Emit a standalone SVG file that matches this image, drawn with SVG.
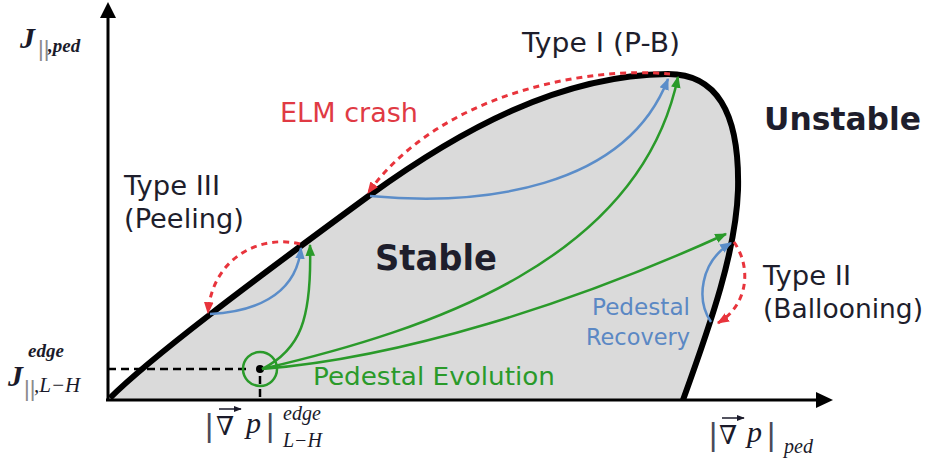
<svg xmlns="http://www.w3.org/2000/svg" width="931" height="469" viewBox="0 0 931 469">
<defs>
<style>
.lbl{font-family:"DejaVu Sans","Liberation Sans",sans-serif;fill:#1e1e2c}
.math{font-family:"Liberation Serif","DejaVu Serif",serif;font-style:italic;fill:#1a1a2a}
.blue{fill:none;stroke:#5b8dc9;stroke-width:2.5}
.green{fill:none;stroke:#2a9a2a;stroke-width:2.5}
.red{fill:none;stroke:#e8343c;stroke-width:3;stroke-dasharray:6 5}
</style>
<marker id="mb" viewBox="0 0 10 10" refX="9" refY="5" markerWidth="12" markerHeight="12" markerUnits="userSpaceOnUse" orient="auto"><path d="M0,1 L10,5 L0,9 Z" fill="#5b8dc9"/></marker>
<marker id="mg" viewBox="0 0 10 10" refX="9" refY="5" markerWidth="12" markerHeight="12" markerUnits="userSpaceOnUse" orient="auto"><path d="M0,1 L10,5 L0,9 Z" fill="#2a9a2a"/></marker>
<marker id="mr" viewBox="0 0 10 10" refX="9" refY="5" markerWidth="12" markerHeight="12" markerUnits="userSpaceOnUse" orient="auto"><path d="M0,1 L10,5 L0,9 Z" fill="#e8343c"/></marker>
<marker id="mk" viewBox="0 0 10 10" refX="9" refY="5" markerWidth="8" markerHeight="8" markerUnits="userSpaceOnUse" orient="auto"><path d="M0,1 L10,5 L0,9 Z" fill="#1a1a2a"/></marker>
</defs>
<rect width="931" height="469" fill="#ffffff"/>

<g id="stable-region">
<path d="M110 398 C150 358 250 283 370 195 C460 130 560 75 668 74 C715 74 740 110 738 190 C736 250 712 320 683 400 L110 400 Z" fill="#dadada"/>
</g>

<g id="axes">
<line x1="108" y1="400" x2="108" y2="16" stroke="#000" stroke-width="3"/>
<path d="M108 2 L100 18 L116 18 Z" fill="#000"/>
<line x1="106" y1="400" x2="818" y2="400" stroke="#000" stroke-width="3"/>
<path d="M833 400 L816 392 L816 408 Z" fill="#000"/>
<line x1="108" y1="369" x2="250" y2="369" stroke="#000" stroke-width="2.5" stroke-dasharray="8 5"/>
<line x1="260" y1="376" x2="260" y2="399" stroke="#000" stroke-width="2.5" stroke-dasharray="8 5"/>
</g>

<g id="boundary">
<path d="M110 398 C150 358 250 283 370 195 C460 130 560 75 668 74 C715 74 740 110 738 190 C736 250 712 320 683 400" fill="none" stroke="#000" stroke-width="6"/>
</g>

<g id="start-point">
<circle cx="260" cy="369" r="17" fill="none" stroke="#2a9a2a" stroke-width="2.5"/>
<circle cx="260" cy="369" r="4" fill="#000"/>
</g>

<g id="connectors">
<path class="red" d="M670 74 C590 66 440 92 368 193" marker-end="url(#mr)"/>
<path class="red" d="M300 244 C260 234 212 258 208 313" marker-end="url(#mr)"/>
<path class="red" d="M734 242 C752 268 748 305 718 323" marker-end="url(#mr)"/>
<path class="blue" d="M370 196 C480 206 625 190 668 79" marker-end="url(#mb)"/>
<path class="blue" d="M210 314 C250 312 296 298 301 248" marker-end="url(#mb)"/>
<path class="blue" d="M711 322 C696 300 700 262 731 243" marker-end="url(#mb)"/>
<path class="green" d="M262 369 C300 350 312 320 310 245" marker-end="url(#mg)"/>
<path class="green" d="M262 369 C430 330 640 260 678 77" marker-end="url(#mg)"/>
<path class="green" d="M262 369 C400 358 570 305 726 234" marker-end="url(#mg)"/>
</g>

<g id="labels">
<text class="lbl" x="522" y="52" font-size="26" textLength="158" lengthAdjust="spacingAndGlyphs">Type I (P-B)</text>
<text class="lbl" x="280" y="122" font-size="26" textLength="138" lengthAdjust="spacingAndGlyphs" style="fill:#e03a44">ELM crash</text>
<text class="lbl" x="764" y="130" font-size="32" font-weight="bold" textLength="157" lengthAdjust="spacingAndGlyphs">Unstable</text>
<text class="lbl" x="375" y="270" font-size="36" font-weight="bold" textLength="122" lengthAdjust="spacingAndGlyphs">Stable</text>
<text class="lbl" x="124" y="195" font-size="26" textLength="96" lengthAdjust="spacingAndGlyphs">Type III</text>
<text class="lbl" x="124" y="228" font-size="26" textLength="120" lengthAdjust="spacingAndGlyphs">(Peeling)</text>
<text class="lbl" x="763" y="285" font-size="26" textLength="88" lengthAdjust="spacingAndGlyphs">Type II</text>
<text class="lbl" x="763" y="318" font-size="26" textLength="160" lengthAdjust="spacingAndGlyphs">(Ballooning)</text>
<text class="lbl" x="592" y="315" font-size="23" textLength="98" lengthAdjust="spacingAndGlyphs" style="fill:#5b88c4">Pedestal</text>
<text class="lbl" x="586" y="345" font-size="23" textLength="104" lengthAdjust="spacingAndGlyphs" style="fill:#5b88c4">Recovery</text>
<text class="lbl" x="313" y="385" font-size="25" textLength="242" lengthAdjust="spacingAndGlyphs" style="fill:#2a9a2a">Pedestal Evolution</text>
</g>

<g id="axis-labels">
<text class="math" x="20" y="48" font-size="30" font-weight="bold">J</text>
<text x="38" y="56" font-family="Liberation Sans,sans-serif" font-size="22" fill="#8a8a8a">||</text>
<text class="math" x="48" y="52" font-size="19" font-weight="bold">,ped</text>

<text class="math" x="8" y="386" font-size="30" font-weight="bold">J</text>
<text class="math" x="28" y="357" font-size="19" font-weight="bold">edge</text>
<text x="24" y="396" font-family="Liberation Sans,sans-serif" font-size="22" fill="#8a8a8a">||</text>
<text class="math" x="34" y="392" font-size="21">,L−H</text>

<text x="205" y="436" font-family="Liberation Sans,sans-serif" font-size="32" fill="#4a4a5a">|</text>
<text x="216" y="435" font-family="DejaVu Serif,serif" font-size="26" fill="#1a1a2a">∇</text>
<line x1="219" y1="409" x2="241" y2="409" stroke="#1a1a2a" stroke-width="1.5" marker-end="url(#mk)"/>
<text class="math" x="246" y="433" font-size="30">p</text>
<text x="266" y="436" font-family="Liberation Sans,sans-serif" font-size="32" fill="#4a4a5a">|</text>
<text class="math" x="283" y="420" font-size="20">edge</text>
<text class="math" x="283" y="447" font-size="20">L−H</text>

<text x="709" y="445" font-family="Liberation Sans,sans-serif" font-size="32" fill="#4a4a5a">|</text>
<text x="719" y="444" font-family="DejaVu Serif,serif" font-size="26" fill="#1a1a2a">∇</text>
<line x1="722" y1="418" x2="744" y2="418" stroke="#1a1a2a" stroke-width="1.5" marker-end="url(#mk)"/>
<text class="math" x="747" y="442" font-size="30">p</text>
<text x="767" y="445" font-family="Liberation Sans,sans-serif" font-size="32" fill="#4a4a5a">|</text>
<text class="math" x="784" y="453" font-size="20">ped</text>
</g>
</svg>
